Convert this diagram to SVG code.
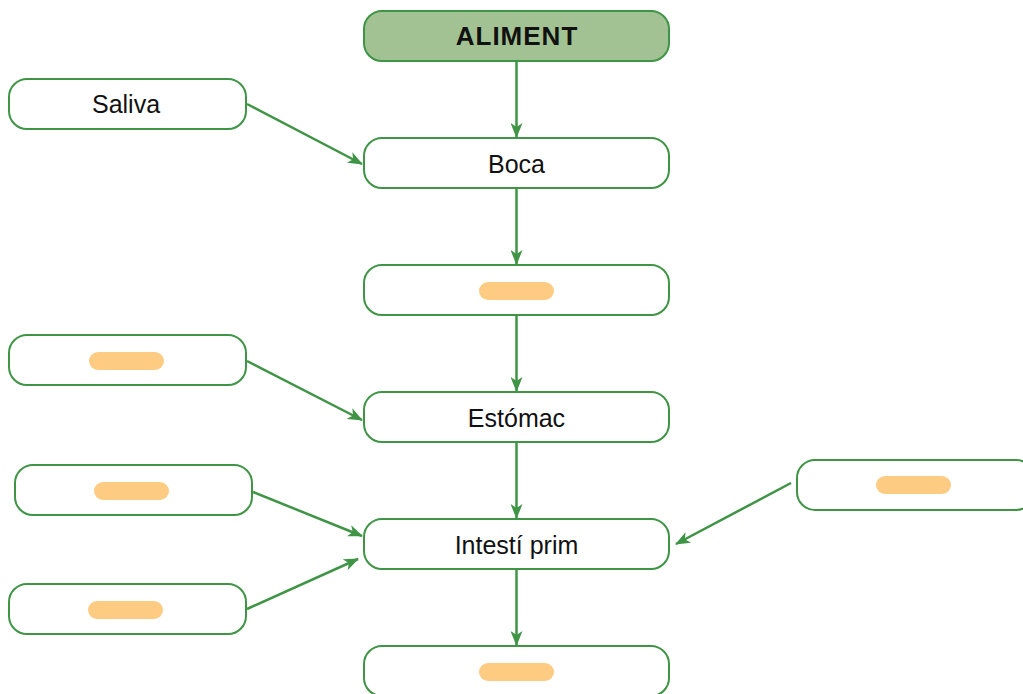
<svg xmlns="http://www.w3.org/2000/svg" width="1023" height="694" viewBox="0 0 1023 694">
<defs>
<marker id="ah" viewBox="0 0 15 12" refX="14" refY="6" markerWidth="15" markerHeight="12" markerUnits="userSpaceOnUse" orient="auto">
<path d="M0,0 L15,6 L0,12 L4,6 Z" fill="#3f9445"/>
</marker>
<style>
.box{fill:#fff;stroke:#3f9445;stroke-width:2}
.head{fill:#a3c293;stroke:#3f9445;stroke-width:2}
.pill{fill:#fecb83}
.t{font-family:"Liberation Sans",Arial,sans-serif;font-size:25px;fill:#111;text-anchor:middle}
.b{font-weight:bold;font-size:26px;letter-spacing:1px}
.c{fill:none;stroke:#3f9445;stroke-width:2.5;marker-end:url(#ah)}
</style>
</defs>
<rect width="1023" height="694" fill="#fff"/>
<g id="connectors">
<line class="c" x1="516.5" y1="61" x2="516.5" y2="137"/>
<line class="c" x1="516.5" y1="188" x2="516.5" y2="264"/>
<line class="c" x1="516.5" y1="315" x2="516.5" y2="391"/>
<line class="c" x1="516.5" y1="442" x2="516.5" y2="518"/>
<line class="c" x1="516.5" y1="569" x2="516.5" y2="645"/>
<line class="c" x1="247" y1="104" x2="362" y2="164"/>
<line class="c" x1="247" y1="361" x2="362" y2="420"/>
<line class="c" x1="253" y1="492" x2="362" y2="536"/>
<line class="c" x1="247" y1="609" x2="358" y2="559"/>
<line class="c" x1="791" y1="483" x2="676" y2="544"/>
</g>
<g id="aliment"><rect class="head" x="364" y="11" width="305" height="50" rx="18"/><text class="t b" x="517" y="45">ALIMENT</text></g>
<g id="boca"><rect class="box" x="364" y="138" width="305" height="50" rx="18"/><text class="t" x="516.5" y="173">Boca</text></g>
<g id="blank1"><rect class="box" x="364" y="265" width="305" height="50" rx="18"/><rect class="pill" x="479" y="282" width="75" height="18" rx="9"/></g>
<g id="estomac"><rect class="box" x="364" y="392" width="305" height="50" rx="18"/><text class="t" x="516.5" y="427">Estómac</text></g>
<g id="intesti"><rect class="box" x="364" y="519" width="305" height="50" rx="18"/><text class="t" x="516.5" y="554">Intestí prim</text></g>
<g id="blank2"><rect class="box" x="364" y="646" width="305" height="50" rx="18"/><rect class="pill" x="479" y="663" width="75" height="18" rx="9"/></g>
<g id="saliva"><rect class="box" x="9" y="79" width="237" height="50" rx="18"/><text class="t" x="126" y="113">Saliva</text></g>
<g id="left2"><rect class="box" x="9" y="335" width="237" height="50" rx="18"/><rect class="pill" x="89" y="352" width="75" height="18" rx="9"/></g>
<g id="left3"><rect class="box" x="15" y="465" width="237" height="50" rx="18"/><rect class="pill" x="94" y="482" width="75" height="18" rx="9"/></g>
<g id="left4"><rect class="box" x="9" y="584" width="237" height="50" rx="18"/><rect class="pill" x="88" y="601" width="75" height="18" rx="9"/></g>
<g id="right1"><rect class="box" x="797" y="460" width="237" height="50" rx="18"/><rect class="pill" x="876" y="476" width="75" height="18" rx="9"/></g>
</svg>
